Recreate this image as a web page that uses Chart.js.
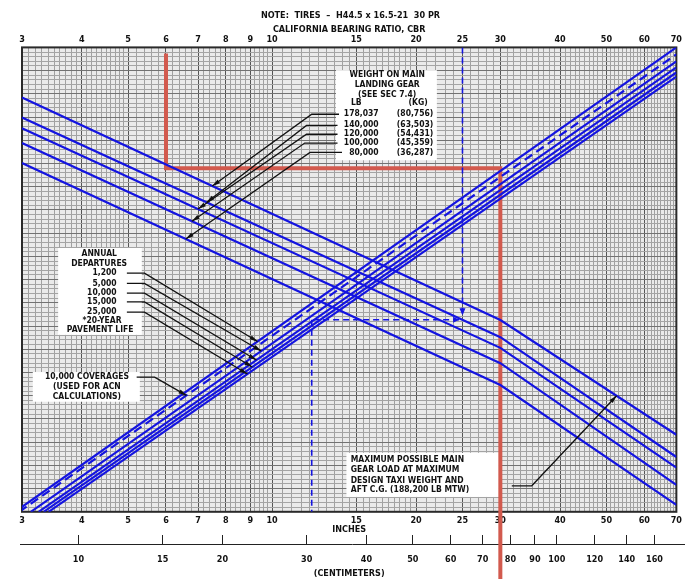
<!DOCTYPE html>
<html><head><meta charset="utf-8">
<script src="https://cdn.jsdelivr.net/npm/chart.js@4.4.1/dist/chart.umd.min.js"></script>
<style>html,body{margin:0;padding:0;background:#fff;}#wrap{width:685px;height:579px;}</style>
</head><body><div id="wrap"><canvas id="c" width="685" height="579"></canvas></div>
<script>
// ---------------- DATA ----------------
const cbrTicks  = [3,4,5,6,7,8,9,10,15,20,25,30,40,50,60,70];
const inchTicks = [3,4,5,6,7,8,9,10,15,20,25,30,40,50,60,70];
const cmTicks   = [10,15,20,30,40,50,60,70,80,90,100,120,140,160];

// weight-on-main-gear curves (x = CBR / thickness value, y = chart ordinate 0..100)
const weightLb = ['178,037','140,000','120,000','100,000','80,000'];
const weightKg = ['(80,756)','(63,503)','(54,431)','(45,359)','(36,287)'];
const weightX  = [3, 30, 70];
const w178037  = [89.2, 41.3, 16.6];
const w140000  = [84.9, 37.6, 11.8];
const w120000  = [82.6, 35.3, 9.5];
const w100000  = [79.4, 32.0, 5.8];
const w80000   = [75.1, 27.3, 1.5];

// annual departure lines
const departLabels = ['1,200','5,000','10,000','15,000','25,000'];
const d1200X   = [2.90, 70]; const d1200Y   = [0, 100.0];
const cov10kX  = [2.96, 70]; const cov10kY  = [0, 98.5];
const d5000X   = [3.13, 70]; const d5000Y   = [0, 97.0];
const d10000X  = [3.25, 70]; const d10000Y  = [0, 95.7];
const d15000X  = [3.33, 70]; const d15000Y  = [0, 94.6];
const d25000X  = [3.41, 70]; const d25000Y  = [0, 93.7];

// example design paths
const redPathX = [6, 6, 30, 30];
const redPathY = [98.7, 74.0, 74.0, -16];
const exampleCbr = 25;
const exampleThick = 12.1;

// ---------------- helpers ----------------
const pts = (xs, ys) => xs.map((v, i) => ({x: v, y: ys[i]}));
function yOn(xs, ys, v) {
  const L = Math.log10;
  for (let i = 0; i < xs.length - 1; i++) {
    if (v >= xs[i] && v <= xs[i+1]) {
      const f = (L(v) - L(xs[i])) / (L(xs[i+1]) - L(xs[i]));
      return ys[i] + f * (ys[i+1] - ys[i]);
    }
  }
  return ys[ys.length-1];
}
const LINES = {
  w178037: [weightX, w178037], w140000: [weightX, w140000], w120000: [weightX, w120000],
  w100000: [weightX, w100000], w80000: [weightX, w80000],
  d1200: [d1200X, d1200Y], cov10k: [cov10kX, cov10kY], d5000: [d5000X, d5000Y],
  d10000: [d10000X, d10000Y], d15000: [d15000X, d15000Y], d25000: [d25000X, d25000Y]
};
const exY = yOn(weightX, w140000, exampleCbr);

// ---------------- grid (log paper) ----------------
const gridX = [];
for (let v = 3; v < 5 - 1e-9; v += 0.1) gridX.push(+v.toFixed(2));
for (let v = 5; v < 10 - 1e-9; v += 0.2) gridX.push(+v.toFixed(2));
for (let v = 10; v < 20 - 1e-9; v += 0.5) gridX.push(+v.toFixed(2));
for (let v = 20; v <= 70 + 1e-9; v += 1) gridX.push(+v.toFixed(2));
const gridY = [];
for (let v = 0; v <= 100; v++) gridY.push(v);
const isMajorX = v => inchTicks.includes(v);

// ---------------- annotation layout (data units) ----------------
const notes = {
  boxes: [
    {x1: 13.6, x2: 22.1, y1: 95.1, y2: 75.7},
    {x1: 3.57, x2: 5.34, y1: 56.8, y2: 38.1},
    {x1: 3.16, x2: 5.29, y1: 30.1, y2: 23.7},
    {x1: 14.3, x2: 29.8, y1: 12.7, y2: 3.2}
  ],
  texts: [
    {t: 'WEIGHT ON MAIN', x: 17.4, y: 94.0, a: 'center'},
    {t: 'LANDING GEAR', x: 17.4, y: 92.0, a: 'center'},
    {t: '(SEE SEC 7.4)', x: 17.4, y: 89.9, a: 'center'},
    {t: 'LB', x: 15.0, y: 88.0, a: 'center'},
    {t: '(KG)', x: 20.2, y: 88.0, a: 'center'},
    {t: 'ANNUAL', x: 4.35, y: 55.5, a: 'center'},
    {t: 'DEPARTURES', x: 4.35, y: 53.5, a: 'center'},
    {t: '*20-YEAR', x: 4.41, y: 41.1, a: 'center'},
    {t: 'PAVEMENT LIFE', x: 4.37, y: 39.1, a: 'center'},
    {t: '10,000 COVERAGES', x: 4.10, y: 29.0, a: 'center'},
    {t: '(USED FOR ACN', x: 4.10, y: 26.9, a: 'center'},
    {t: 'CALCULATIONS)', x: 4.10, y: 24.7, a: 'center'},
    {t: 'MAXIMUM POSSIBLE MAIN', x: 14.6, y: 11.2, a: 'left'},
    {t: 'GEAR LOAD AT MAXIMUM', x: 14.6, y: 9.0, a: 'left'},
    {t: 'DESIGN TAXI WEIGHT AND', x: 14.6, y: 6.7, a: 'left'},
    {t: 'AFT C.G. (188,200 LB MTW)', x: 14.6, y: 4.7, a: 'left'}
  ],
  weightRowsY: [85.8, 83.4, 81.3, 79.4, 77.4],
  weightLbX: 16.7, weightKgX: 19.9,
  departRowsY: [51.4, 49.2, 47.1, 45.2, 43.0],
  departX: 4.73,
  leaders: [
    {p: [[13.8, 85.6], [12.1, 85.6]], line: 'w178037', v: 7.5},
    {p: [[13.7, 83.2], [11.8, 83.2]], line: 'w140000', v: 7.3},
    {p: [[13.7, 81.3], [11.8, 81.3]], line: 'w120000', v: 7.0},
    {p: [[13.7, 79.4], [11.7, 79.4]], line: 'w100000', v: 6.8},
    {p: [[14.0, 77.4], [12.0, 77.4]], line: 'w80000', v: 6.6},
    {p: [[4.97, 51.4], [5.41, 51.4]], line: 'd1200', v: 9.32},
    {p: [[4.97, 49.2], [5.41, 49.2]], line: 'd5000', v: 9.49},
    {p: [[4.97, 47.1], [5.41, 47.1]], line: 'd10000', v: 9.27},
    {p: [[4.97, 45.2], [5.41, 45.2]], line: 'd15000', v: 9.09},
    {p: [[4.97, 43.0], [5.41, 43.0]], line: 'd25000', v: 8.88},
    {p: [[5.21, 29.0], [5.68, 29.0]], line: 'cov10k', v: 6.62},
    {p: [[31.7, 5.6], [34.9, 5.6]], line: 'w178037', v: 52.5}
  ]
};

// ---------------- plugins ----------------
const FONT = '"DejaVu Sans Condensed", "DejaVu Sans", sans-serif';
function arrowHead(ctx, x0, y0, x1, y1, len, hw, color) {
  const ang = Math.atan2(y1 - y0, x1 - x0);
  ctx.save();
  ctx.fillStyle = color;
  ctx.translate(x1, y1); ctx.rotate(ang);
  ctx.beginPath(); ctx.moveTo(0, 0); ctx.lineTo(-len, -hw); ctx.lineTo(-len, hw); ctx.closePath(); ctx.fill();
  ctx.restore();
}
const paperPlugin = {
  id: 'paper',
  beforeDraw(chart) {
    const {ctx, chartArea: a} = chart;
    ctx.save();
    ctx.fillStyle = '#fff'; ctx.fillRect(0, 0, chart.width, chart.height);
    ctx.fillStyle = '#eaeaea'; ctx.fillRect(a.left, a.top, a.right - a.left, a.bottom - a.top);
    ctx.restore();
  },
  beforeDatasetsDraw(chart) {
    const {ctx, chartArea: a, scales: {x, y, xcm}} = chart;
    ctx.save();
    ctx.fillStyle = '#fff';
    notes.boxes.forEach(b => {
      const X1 = x.getPixelForValue(b.x1), X2 = x.getPixelForValue(b.x2);
      const Y1 = y.getPixelForValue(b.y1), Y2 = y.getPixelForValue(b.y2);
      ctx.fillRect(Math.min(X1, X2), Math.min(Y1, Y2), Math.abs(X2 - X1), Math.abs(Y2 - Y1));
    });
    ctx.strokeStyle = '#2a2a2a'; ctx.lineWidth = 2;
    ctx.strokeRect(a.left, a.top, a.right - a.left, a.bottom - a.top);
    // centimetre axis base line
    const ly = Math.round(xcm.top + 9) + 0.5;
    ctx.strokeStyle = '#222'; ctx.lineWidth = 1;
    ctx.beginPath(); ctx.moveTo(a.left - 2, ly); ctx.lineTo(chart.width, ly); ctx.stroke();
    ctx.restore();
  },
  afterDatasetsDraw(chart) {
    const {ctx, scales: {x, y}} = chart;
    const px = v => x.getPixelForValue(v), py = v => y.getPixelForValue(v);
    ctx.save();
    ctx.fillStyle = '#111';
    ctx.font = 'bold 8.5px ' + FONT;
    ctx.textBaseline = 'middle';
    notes.texts.forEach(t => { ctx.textAlign = t.a; ctx.fillText(t.t, px(t.x), py(t.y)); });
    weightLb.forEach((s, i) => {
      ctx.textAlign = 'right'; ctx.fillText(s, px(notes.weightLbX), py(notes.weightRowsY[i]));
      ctx.textAlign = 'center'; ctx.fillText(weightKg[i], px(notes.weightKgX), py(notes.weightRowsY[i]));
    });
    departLabels.forEach((s, i) => {
      ctx.textAlign = 'right'; ctx.fillText(s, px(notes.departX), py(notes.departRowsY[i]));
    });
    // leaders
    ctx.strokeStyle = '#111'; ctx.lineWidth = 1.3;
    notes.leaders.forEach(l => {
      const [xs, ys] = LINES[l.line];
      const tip = [l.v, yOn(xs, ys, l.v)];
      const all = l.p.concat([tip]);
      ctx.beginPath();
      all.forEach((q, i) => { const X = px(q[0]), Y = py(q[1]); i ? ctx.lineTo(X, Y) : ctx.moveTo(X, Y); });
      ctx.stroke();
      const c = all[all.length - 2];
      arrowHead(ctx, px(c[0]), py(c[1]), px(tip[0]), py(tip[1]), 8, 2.2, '#111');
    });
    // example arrow heads (blue)
    arrowHead(ctx, px(exampleCbr), py(exY + 6), px(exampleCbr), py(exY + 1), 7, 3, '#1414e0');
    arrowHead(ctx, px(exampleCbr - 2), py(exY), px(exampleCbr - 0.4), py(exY), 6, 3, '#1414e0');
    ctx.restore();
  }
};

// ---------------- chart ----------------
Chart.defaults.font.family = FONT;
Chart.defaults.font.weight = 'bold';
Chart.defaults.font.size = 9;
Chart.defaults.color = '#111';

const BLUE = '#1414e0';
const mkLine = (label, xs, ys, extra) => Object.assign({
  label, data: pts(xs, ys), showLine: true, borderColor: BLUE, borderWidth: 2.2,
  pointRadius: 0, tension: 0, fill: false
}, extra || {});

const datasets = [
  mkLine('178,037 lb', weightX, w178037),
  mkLine('140,000 lb', weightX, w140000),
  mkLine('120,000 lb', weightX, w120000),
  mkLine('100,000 lb', weightX, w100000),
  mkLine('80,000 lb', weightX, w80000),
  mkLine('1,200', d1200X, d1200Y),
  mkLine('10,000 coverages', cov10kX, cov10kY, {borderDash: [9, 5]}),
  mkLine('5,000', d5000X, d5000Y),
  mkLine('10,000', d10000X, d10000Y),
  mkLine('15,000', d15000X, d15000Y),
  mkLine('25,000', d25000X, d25000Y),
  mkLine('example CBR', [exampleCbr, exampleCbr], [100, exY + 1], {borderDash: [6, 4], borderWidth: 1.6}),
  mkLine('example across', [exampleCbr - 0.4, exampleThick], [exY, exY], {borderDash: [6, 4], borderWidth: 1.6}),
  mkLine('example thickness', [exampleThick, exampleThick], [exY, 0], {borderDash: [6, 4], borderWidth: 1.6}),
  mkLine('design path', redPathX, redPathY, {borderColor: '#d25a4e', borderWidth: 4, clip: false, borderCapStyle: 'butt'})
];

const logAxis = (extra) => Object.assign({
  type: 'logarithmic', min: 3, max: 70,
  ticks: {autoSkip: false, maxRotation: 0, minRotation: 0, padding: 3,
          callback: v => isMajorX(+(+v).toFixed(2)) ? String(+(+v).toFixed(2)) : ''},
}, extra);

new Chart(document.getElementById('c'), {
  type: 'scatter',
  data: {datasets},
  options: {
    responsive: false, animation: false, devicePixelRatio: 1,
    layout: {padding: {left: 22, right: 6, top: 6, bottom: 0}},
    plugins: {
      legend: {display: false}, tooltip: {enabled: false},
      title: {display: true, text: 'NOTE:  TIRES  –  H44.5 x 16.5-21  30 PR',
              font: {size: 9, weight: 'bold'}, color: '#111', padding: {top: 4, bottom: 3}}
    },
    scales: {
      x: logAxis({
        position: 'bottom',
        afterBuildTicks: s => { s.ticks = gridX.map(v => ({value: v})); },
        grid: {drawTicks: false, color: c => isMajorX(+(+c.tick.value).toFixed(2)) ? '#555' : '#a0a0a0', lineWidth: 1},
        border: {display: false},
        title: {display: true, text: 'INCHES', padding: {top: -4, bottom: 0}, font: {size: 9, weight: 'bold'}}
      }),
      x2: logAxis({
        position: 'top',
        afterBuildTicks: s => { s.ticks = cbrTicks.map(v => ({value: v})); },
        ticks: {autoSkip: false, maxRotation: 0, minRotation: 0, padding: 2,
                callback: v => String(v)},
        grid: {display: false, drawTicks: false}, border: {display: false},
        title: {display: true, text: 'CALIFORNIA BEARING RATIO, CBR', padding: {top: 0, bottom: -2}, font: {size: 9, weight: 'bold'}}
      }),
      xcm: {
        type: 'logarithmic', position: 'bottom', min: 3 * 2.54, max: 70 * 2.54,
        afterBuildTicks: s => { s.ticks = cmTicks.map(v => ({value: v})); },
        ticks: {autoSkip: false, maxRotation: 0, minRotation: 0, padding: 10, callback: v => String(v)},
        grid: {drawOnChartArea: false, drawTicks: true, tickLength: 9, color: '#222', lineWidth: 1},
        border: {display: false},
        title: {display: true, text: '(CENTIMETERS)', padding: {top: -7, bottom: 0}, font: {size: 9, weight: 'bold'}}
      },
      y: {
        type: 'linear', min: 0, max: 100, position: 'left',
        afterBuildTicks: s => { s.ticks = gridY.map(v => ({value: v})); },
        ticks: {display: false},
        grid: {drawTicks: false, color: c => c.tick.value % 5 === 0 ? '#727272' : '#a4a4a4', lineWidth: 1},
        border: {display: false}
      }
    }
  },
  plugins: [paperPlugin]
});
</script>
</body></html>
